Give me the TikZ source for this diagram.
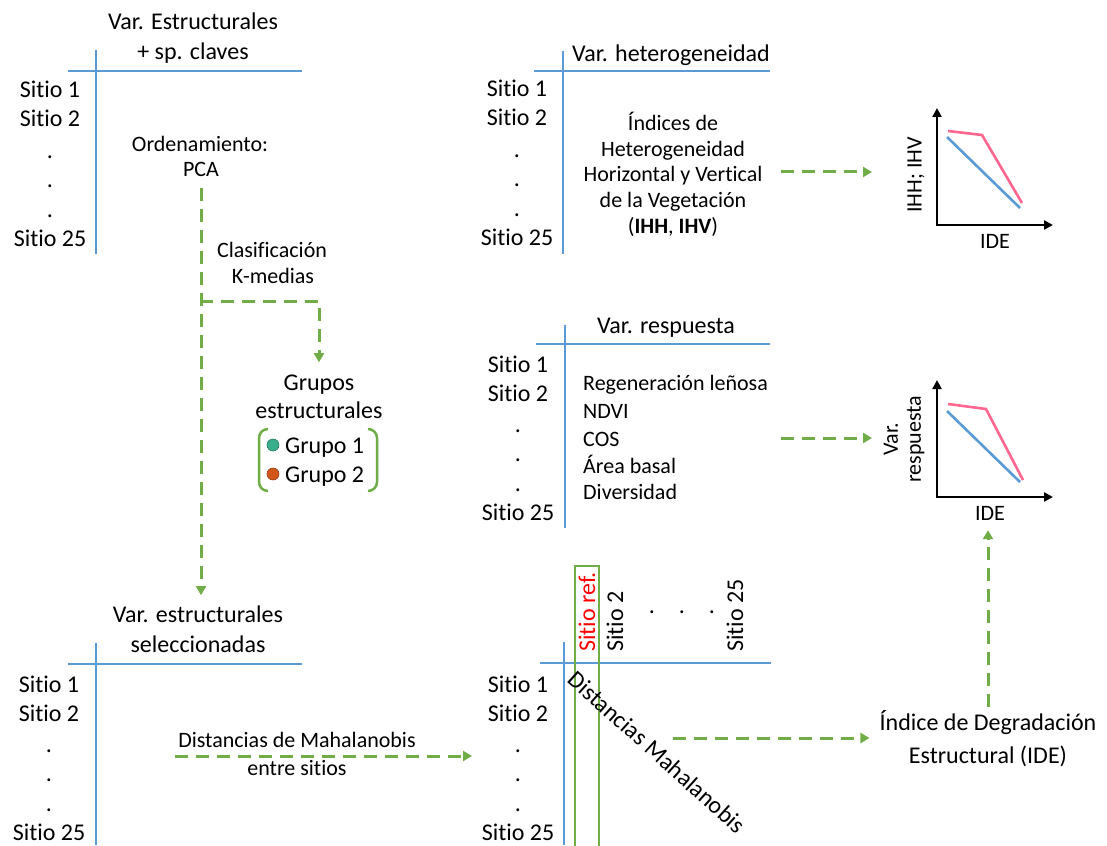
\documentclass[tikz,border=0pt]{standalone}
\usepackage{fontspec}
\setmainfont[Ligatures=NoCommon]{Carlito}
\usetikzlibrary{arrows.meta}
\definecolor{cgreen}{HTML}{70AD47}
\definecolor{cblue}{HTML}{5B9BD5}
\definecolor{cpink}{HTML}{FF6690}
\definecolor{cteal}{HTML}{3AAE8C}
\definecolor{corange}{HTML}{D2561A}
\newcommand\mysitios[3]{%
  \node[big] (#1s1) at (#2,#3) {Sitio 1};
  \node[big] (#1s2) at (#2,#3+29) {Sitio 2};
  \node[big,anchor=center] (#1d1) at (#2,#3+59) {.};
  \node[big,anchor=center] (#1d2) at (#2,#3+88) {.};
  \node[big,anchor=center] (#1d3) at (#2,#3+118) {.};
  \node[big] (#1s25) at (#2,#3+148) {Sitio 25};
}
\begin{document}
\begin{tikzpicture}[x=1pt,y=-1pt,
  big/.style={font=\fontsize{24}{29}\selectfont, inner sep=0pt, anchor=base},
  mid/.style={font=\fontsize{22}{27}\selectfont, inner sep=0pt, anchor=base},
  tbl/.style={draw=cblue, line width=2pt},
  flow/.style={draw=cgreen, line width=3pt, dash pattern=on 13pt off 8pt, -{Triangle[length=9pt,width=10pt]}},
  axis/.style={line width=2.6pt, {Triangle[length=9pt,width=9pt]}-{Triangle[length=9pt,width=9pt]}, line join=miter},
  curve/.style={line width=2.6pt},
]
\useasboundingbox (0,0) rectangle (1107,845);

% ---------- table 1 (top left)
\node[big] (t1a) at (193,30) {Var. Estructurales};
\node[big] (t1b) at (193,60) {+ sp. claves};
\draw[tbl] (68,71) -- (302,71);
\draw[tbl] (96,50) -- (96,254);
\mysitios{a}{50}{98}
\node[mid] (ord) at (200,152) {Ordenamiento:};
\node[mid] (pca) at (201,177) {PCA};
\node[mid] (cla) at (272,257) {Clasificación};
\node[mid] (kme) at (273,283) {K-medias};

% ---------- groups
\node[big] (grp1) at (319,390) {Grupos};
\node[big] (grp2) at (319,418) {estructurales};
\draw[cgreen, line width=2.5pt, rounded corners=9pt] (268,429) -- (259,429) -- (259,491) -- (268,491);
\draw[cgreen, line width=2.5pt, rounded corners=9pt] (368,429) -- (377,429) -- (377,491) -- (368,491);
\node[circle, fill=cteal, draw=cteal!70!black, line width=0.6pt, minimum size=12pt, inner sep=0pt] (c1) at (273,445) {};
\node[circle, fill=corange, draw=corange!70!black, line width=0.6pt, minimum size=12pt, inner sep=0pt] (c2) at (273,474) {};
\node[big, anchor=base west] (gr1) at (285,453) {Grupo 1};
\node[big, anchor=base west] (gr2) at (285,482) {Grupo 2};

% ---------- table 2 (top middle)
\node[big, anchor=base west] (t2) at (572,62) {Var. heterogeneidad};
\draw[tbl] (534,71) -- (770,71);
\draw[tbl] (563,51) -- (563,254);
\mysitios{b}{517}{97}
\node[mid] (h1) at (673,131) {Índices de};
\node[mid] (h2) at (673,156.5) {Heterogeneidad};
\node[mid] (h3) at (673,182) {Horizontal y Vertical};
\node[mid] (h4) at (673,207.5) {de la Vegetación};
\node[mid] (h5) at (673,233) {(\textbf{IHH}, \textbf{IHV})};

% ---------- graph 1
\coordinate (g1o) at (937,225);
\draw[axis] (937,108) -- (g1o) -- (1053,225);
\draw[curve, cpink] (948,131) -- (982,135) -- (1022,203);
\draw[curve, cblue] (947,137) -- (1020,208);
\node[mid, rotate=90, anchor=center] (g1y) at (916,175) {IHH; IHV};
\node[mid] (g1x) at (995,248) {IDE};

% ---------- table 3 (middle)
\node[big] (t3) at (666,333) {Var. respuesta};
\draw[tbl] (536,344) -- (770,344);
\draw[tbl] (565,325) -- (565,528);
\mysitios{c}{518}{372}
\node[mid, anchor=base west] (r1) at (583,390) {Regeneración leñosa};
\node[mid, anchor=base west] (r2) at (583,418) {NDVI};
\node[mid, anchor=base west] (r3) at (583,446) {COS};
\node[mid, anchor=base west] (r4) at (583,473) {Área basal};
\node[mid, anchor=base west] (r5) at (583,499) {Diversidad};

% ---------- graph 2
\coordinate (g2o) at (937,497);
\draw[axis] (937,380) -- (g2o) -- (1053,497);
\draw[curve, cpink] (948,404) -- (986,409) -- (1023,480);
\draw[curve, cblue] (947,411) -- (1020,482);
\node[rotate=90, align=center, inner sep=0pt, font=\fontsize{22}{23}\selectfont, anchor=center] (g2y) at (904,439) {Var.\\respuesta};
\node[mid] (g2x) at (990,520) {IDE};

% ---------- table 4 (bottom left)
\node[big] (t4a) at (198,622) {Var. estructurales};
\node[big] (t4b) at (198,652) {seleccionadas};
\draw[tbl] (68,664) -- (302,664);
\draw[tbl] (96,643) -- (96,845);
\mysitios{d}{49}{692}
\node[mid] (dm1) at (297,747) {Distancias de Mahalanobis};
\node[mid] (dm2) at (297,775) {entre sitios};

% ---------- table 5 (bottom middle)
\draw[tbl] (540,663) -- (771,663);
\draw[tbl] (564,642) -- (564,845);
\mysitios{e}{518}{692}
\draw[cgreen, line width=2pt] (575,850) -- (575,566) -- (599,566) -- (599,850);
\node[big, rotate=90, anchor=base west, text=red] (sref) at (595,652) {Sitio ref.};
\node[big, rotate=90, anchor=base west] (s2) at (623,652) {Sitio 2};
\node[big, rotate=90, anchor=base west] (s25) at (743,652) {Sitio 25};
\node[big, anchor=center] (td1) at (652,612) {.};
\node[big, anchor=center] (td2) at (682,612) {.};
\node[big, anchor=center] (td3) at (712,612) {.};
\node[big, rotate=-42, anchor=center] (dmah) at (657,752) {Distancias Mahalanobis};

% ---------- IDE
\node[big] (ide1) at (988,730) {Índice de Degradación};
\node[big] (ide2) at (988,763) {Estructural (IDE)};

% ---------- flow connectors
\coordinate (br) at (200,301);
\draw[flow, shorten <=11pt, shorten >=10pt] (pca.south) -- (pca.south |- t4a.north);
\draw[flow, shorten >=12pt] (br) -| (grp1.north);
\coordinate (a1s) at (781,172);
\coordinate (a1e) at (872,172);
\draw[flow] (a1s) -- (a1e);
\coordinate (a2s) at (781,438);
\coordinate (a2e) at (872,438);
\draw[flow] (a2s) -- (a2e);
\coordinate (a4s) at (175,756);
\coordinate (a4e) at (472,756);
\draw[flow] (a4s) -- (a4e);
\coordinate (a5s) at (673,738);
\draw[flow, shorten >=10pt] (a5s) -- (a5s -| ide1.west);
\draw[flow, shorten <=3pt, shorten >=10pt] (ide1.north) -- (ide1.north |- g2x.south);
\end{tikzpicture}
\end{document}
